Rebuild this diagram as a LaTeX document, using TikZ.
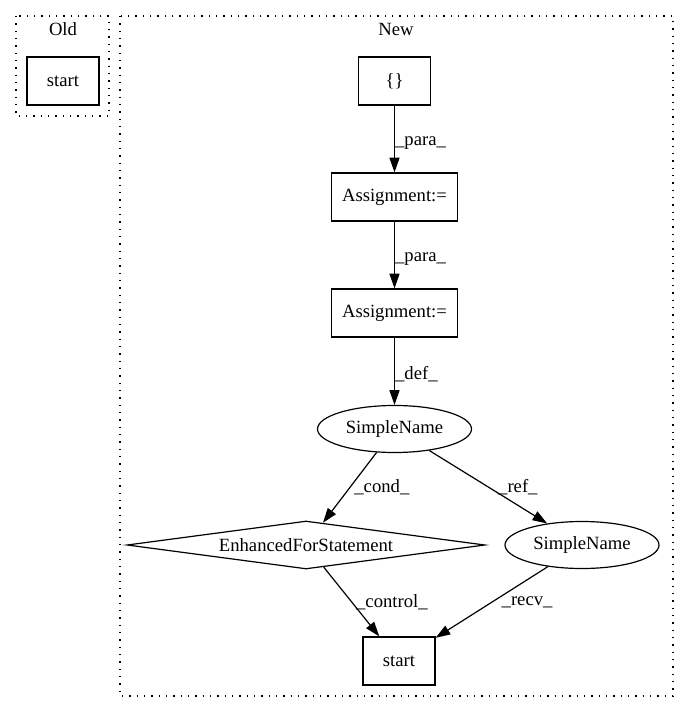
\documentclass[tikz,border=0pt]{standalone}
\usepackage{fontspec}
\setmainfont{Liberation Serif}
\usetikzlibrary{arrows.meta,shapes.geometric,positioning}
\tikzset{
    every node/.style={font=\fontsize{14}{16}\selectfont},
    box/.style={draw, line width=0.9pt, rectangle, minimum width=54pt, minimum height=36pt, inner xsep=8pt, inner ysep=0pt},
    oval/.style={draw, line width=0.9pt, ellipse, minimum width=115.5pt, minimum height=35.25pt, inner sep=0pt},
    decision/.style={draw, line width=0.9pt, diamond, aspect=7.5, minimum width=268.5pt, minimum height=36pt, inner sep=0pt},
    cluster/.style={line width=0.9pt, dash pattern=on 0.9pt off 4.6pt},
    edge/.style={-{Triangle[length=11pt,width=7.5pt]}, line width=0.9pt},
    elabel/.style={anchor=west, inner sep=3pt},
    node distance=87pt
}
\begin{document}
\begin{tikzpicture}[x=0.75pt, y=-0.75pt]
            \useasboundingbox (0,0) rectangle (685,712);

            \draw[cluster] (16,16) rectangle (109,116);
            \draw[cluster] (120,16) rectangle (673,696);
            \node[anchor=base] (oldtitle) at (63,36) {Old};
            \node[anchor=base] (newtitle) at (396,36) {New};

            \node[box] (oldstart) at (63,81) {start};

            \node[box] (brace) at (394.5,81) {\{\}};
            \node[box, below of=brace] (assignA) {Assignment:=};
            \node[box, below of=assignA] (assignB) {Assignment:=};
            \node[oval, below of=assignB] (nameA) {SimpleName};
            \node[decision] (loop) at (306,545) {EnhancedForStatement};
            \node[oval] (nameB) at (582,545) {SimpleName};
            \node[box] (newstart) at (399,661) {start};

            \draw[edge] (brace) -- node[elabel, inner sep=0pt, yshift=-3pt] {\_para\_} (assignA);
            \draw[edge] (assignA) -- node[elabel, inner sep=0pt, yshift=-3pt] {\_para\_} (assignB);
            \draw[edge] (assignB) -- node[elabel, inner sep=0pt, yshift=-2pt] {\_def\_} (nameA);
            \draw[edge] (nameA) -- node[elabel] {\_cond\_} (loop);
            \draw[edge] (nameA) -- node[elabel, xshift=4pt] {\_ref\_} (nameB);
            \draw[edge] (loop) -- node[elabel] {\_control\_} (newstart);
            \draw[edge] (nameB) -- node[elabel, xshift=4pt] {\_recv\_} (newstart);
        \end{tikzpicture}
\end{document}
